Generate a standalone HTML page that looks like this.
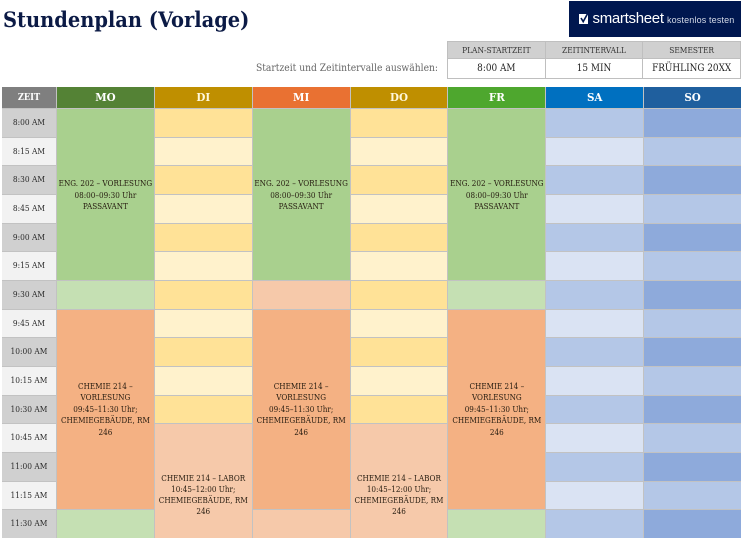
<!DOCTYPE html>
<html lang="de">
<head>
<meta charset="utf-8">
<title>Stundenplan (Vorlage)</title>
<style>
html,body{margin:0;padding:0;background:#fff}
body{position:relative;width:743px;height:541px;overflow:hidden;font-family:"DejaVu Serif Condensed","DejaVu Serif","Liberation Serif",serif;color:#222}
.abs{position:absolute}
#title{left:3px;top:3px;font-size:21.6px;line-height:36px;font-weight:700;color:#0b1a45;white-space:nowrap}
#logo{left:569px;top:1px;width:172px;height:36px;background:#00174f;color:#fff}
#logo svg{position:absolute;left:10px;top:12px}
#logo .brand{position:absolute;left:23.5px;top:6px;font:400 15px/24px "Liberation Sans",sans-serif;letter-spacing:-.3px;white-space:nowrap}
#logo .try{position:absolute;left:98px;top:11px;font:400 9px/16px "Liberation Sans",sans-serif;color:#d5dbe8;letter-spacing:.15px;white-space:nowrap}
#prompt{right:305px;top:60px;font-size:10.2px;line-height:18px;color:#666;white-space:nowrap}
#params{left:447px;top:41px;width:294px;height:38px;display:grid;grid-template-columns:repeat(3,1fr);grid-template-rows:16px 19px;background:#bfbfbf;border:1px solid #bfbfbf;box-sizing:border-box;gap:1px;text-align:center}
#params div{display:flex;align-items:center;justify-content:center;white-space:nowrap}
#params .h{background:#d0d0d0;font-size:8.3px;color:#333}
#params .v{background:#fff;font-size:9.9px;color:#222}
#schedule{left:2px;top:87px;width:739px;height:451px;display:grid;grid-template-columns:54px repeat(7,1fr);grid-template-rows:21px repeat(15,1fr);gap:1px;background:#c2c2c2}
#schedule>div{display:flex;align-items:center;justify-content:center;text-align:center;font-size:8.05px;line-height:11.4px;box-sizing:border-box;min-width:0;min-height:0;color:#261c10;white-space:nowrap}
#schedule .hd{color:#fff;font-weight:700;font-size:11.5px}
#schedule .hd.y{color:#fff8dc}
#schedule .t{font-size:8.3px;color:#2b2b2b}
#schedule .tz{font-size:9.2px;color:#fff}
#schedule .eng{padding-top:2px}
#schedule .lab{padding-top:28px;line-height:11px}
.a{background:#d0d0d0}.b{background:#f2f2f2}
.g{background:#a9d08e}.lg{background:#c5e0b3}
.o{background:#f4b183}.lo{background:#f6c9aa}
.y1{background:#ffe297}.y2{background:#fff2cc}
.s1{background:#b4c7e7}.s2{background:#dae3f3}
.u1{background:#8eaadb}.u2{background:#b4c7e7}
</style>
</head>
<body>
<div id="title" class="abs">Stundenplan (Vorlage)</div>

<div id="logo" class="abs">
  <svg width="10" height="11" viewBox="0 0 10 11"><rect y="1" width="9" height="10" fill="#fff"/><path d="M2 5l2.2 3.6L8.6 0.6" fill="none" stroke="#00174f" stroke-width="1.6"/></svg>
  <span class="brand">smartsheet</span>
  <span class="try">kostenlos testen</span>
</div>

<div id="prompt" class="abs">Startzeit und Zeitintervalle auswählen:</div>

<div id="params" class="abs">
  <div class="h">PLAN-STARTZEIT</div>
  <div class="h">ZEITINTERVALL</div>
  <div class="h">SEMESTER</div>
  <div class="v">8:00 AM</div>
  <div class="v">15 MIN</div>
  <div class="v">FRÜHLING 20XX</div>
</div>

<div id="schedule" class="abs">
  <!-- header row -->
  <div class="hd tz" style="grid-area:1/1;background:#7f7f7f">ZEIT</div>
  <div class="hd" style="grid-area:1/2;background:#548235">MO</div>
  <div class="hd y" style="grid-area:1/3;background:#bf8f00">DI</div>
  <div class="hd" style="grid-area:1/4;background:#e97132">MI</div>
  <div class="hd y" style="grid-area:1/5;background:#bf8f00">DO</div>
  <div class="hd" style="grid-area:1/6;background:#4ea72e">FR</div>
  <div class="hd" style="grid-area:1/7;background:#0070c0">SA</div>
  <div class="hd" style="grid-area:1/8;background:#1f5f9e">SO</div>

  <!-- time column -->
  <div class="t a" style="grid-area:2/1">8:00 AM</div>
  <div class="t b" style="grid-area:3/1">8:15 AM</div>
  <div class="t a" style="grid-area:4/1">8:30 AM</div>
  <div class="t b" style="grid-area:5/1">8:45 AM</div>
  <div class="t a" style="grid-area:6/1">9:00 AM</div>
  <div class="t b" style="grid-area:7/1">9:15 AM</div>
  <div class="t a" style="grid-area:8/1">9:30 AM</div>
  <div class="t b" style="grid-area:9/1">9:45 AM</div>
  <div class="t a" style="grid-area:10/1">10:00 AM</div>
  <div class="t b" style="grid-area:11/1">10:15 AM</div>
  <div class="t a" style="grid-area:12/1">10:30 AM</div>
  <div class="t b" style="grid-area:13/1">10:45 AM</div>
  <div class="t a" style="grid-area:14/1">11:00 AM</div>
  <div class="t b" style="grid-area:15/1">11:15 AM</div>
  <div class="t a" style="grid-area:16/1">11:30 AM</div>

  <!-- Monday -->
  <div class="g eng" style="grid-area:2/2/8/3">ENG. 202 – VORLESUNG<br>08:00–09:30 Uhr<br>PASSAVANT</div>
  <div class="lg" style="grid-area:8/2"></div>
  <div class="o" style="grid-area:9/2/16/3">CHEMIE 214 –<br>VORLESUNG<br>09:45–11:30 Uhr;<br>CHEMIEGEBÄUDE, RM<br>246</div>
  <div class="lg" style="grid-area:16/2"></div>

  <!-- Tuesday -->
  <div class="y1" style="grid-area:2/3"></div>
  <div class="y2" style="grid-area:3/3"></div>
  <div class="y1" style="grid-area:4/3"></div>
  <div class="y2" style="grid-area:5/3"></div>
  <div class="y1" style="grid-area:6/3"></div>
  <div class="y2" style="grid-area:7/3"></div>
  <div class="y1" style="grid-area:8/3"></div>
  <div class="y2" style="grid-area:9/3"></div>
  <div class="y1" style="grid-area:10/3"></div>
  <div class="y2" style="grid-area:11/3"></div>
  <div class="y1" style="grid-area:12/3"></div>
  <div class="lo lab" style="grid-area:13/3/17/4">CHEMIE 214 – LABOR<br>10:45–12:00 Uhr;<br>CHEMIEGEBÄUDE, RM<br>246</div>

  <!-- Wednesday -->
  <div class="g eng" style="grid-area:2/4/8/5">ENG. 202 – VORLESUNG<br>08:00–09:30 Uhr<br>PASSAVANT</div>
  <div class="lo" style="grid-area:8/4"></div>
  <div class="o" style="grid-area:9/4/16/5">CHEMIE 214 –<br>VORLESUNG<br>09:45–11:30 Uhr;<br>CHEMIEGEBÄUDE, RM<br>246</div>
  <div class="lo" style="grid-area:16/4"></div>

  <!-- Thursday -->
  <div class="y1" style="grid-area:2/5"></div>
  <div class="y2" style="grid-area:3/5"></div>
  <div class="y1" style="grid-area:4/5"></div>
  <div class="y2" style="grid-area:5/5"></div>
  <div class="y1" style="grid-area:6/5"></div>
  <div class="y2" style="grid-area:7/5"></div>
  <div class="y1" style="grid-area:8/5"></div>
  <div class="y2" style="grid-area:9/5"></div>
  <div class="y1" style="grid-area:10/5"></div>
  <div class="y2" style="grid-area:11/5"></div>
  <div class="y1" style="grid-area:12/5"></div>
  <div class="lo lab" style="grid-area:13/5/17/6">CHEMIE 214 – LABOR<br>10:45–12:00 Uhr;<br>CHEMIEGEBÄUDE, RM<br>246</div>

  <!-- Friday -->
  <div class="g eng" style="grid-area:2/6/8/7">ENG. 202 – VORLESUNG<br>08:00–09:30 Uhr<br>PASSAVANT</div>
  <div class="lg" style="grid-area:8/6"></div>
  <div class="o" style="grid-area:9/6/16/7">CHEMIE 214 –<br>VORLESUNG<br>09:45–11:30 Uhr;<br>CHEMIEGEBÄUDE, RM<br>246</div>
  <div class="lg" style="grid-area:16/6"></div>

  <!-- Saturday -->
  <div class="s1" style="grid-area:2/7"></div>
  <div class="s2" style="grid-area:3/7"></div>
  <div class="s1" style="grid-area:4/7"></div>
  <div class="s2" style="grid-area:5/7"></div>
  <div class="s1" style="grid-area:6/7"></div>
  <div class="s2" style="grid-area:7/7"></div>
  <div class="s1" style="grid-area:8/7"></div>
  <div class="s2" style="grid-area:9/7"></div>
  <div class="s1" style="grid-area:10/7"></div>
  <div class="s2" style="grid-area:11/7"></div>
  <div class="s1" style="grid-area:12/7"></div>
  <div class="s2" style="grid-area:13/7"></div>
  <div class="s1" style="grid-area:14/7"></div>
  <div class="s2" style="grid-area:15/7"></div>
  <div class="s1" style="grid-area:16/7"></div>

  <!-- Sunday -->
  <div class="u1" style="grid-area:2/8"></div>
  <div class="u2" style="grid-area:3/8"></div>
  <div class="u1" style="grid-area:4/8"></div>
  <div class="u2" style="grid-area:5/8"></div>
  <div class="u1" style="grid-area:6/8"></div>
  <div class="u2" style="grid-area:7/8"></div>
  <div class="u1" style="grid-area:8/8"></div>
  <div class="u2" style="grid-area:9/8"></div>
  <div class="u1" style="grid-area:10/8"></div>
  <div class="u2" style="grid-area:11/8"></div>
  <div class="u1" style="grid-area:12/8"></div>
  <div class="u2" style="grid-area:13/8"></div>
  <div class="u1" style="grid-area:14/8"></div>
  <div class="u2" style="grid-area:15/8"></div>
  <div class="u1" style="grid-area:16/8"></div>
</div>
</body>
</html>
